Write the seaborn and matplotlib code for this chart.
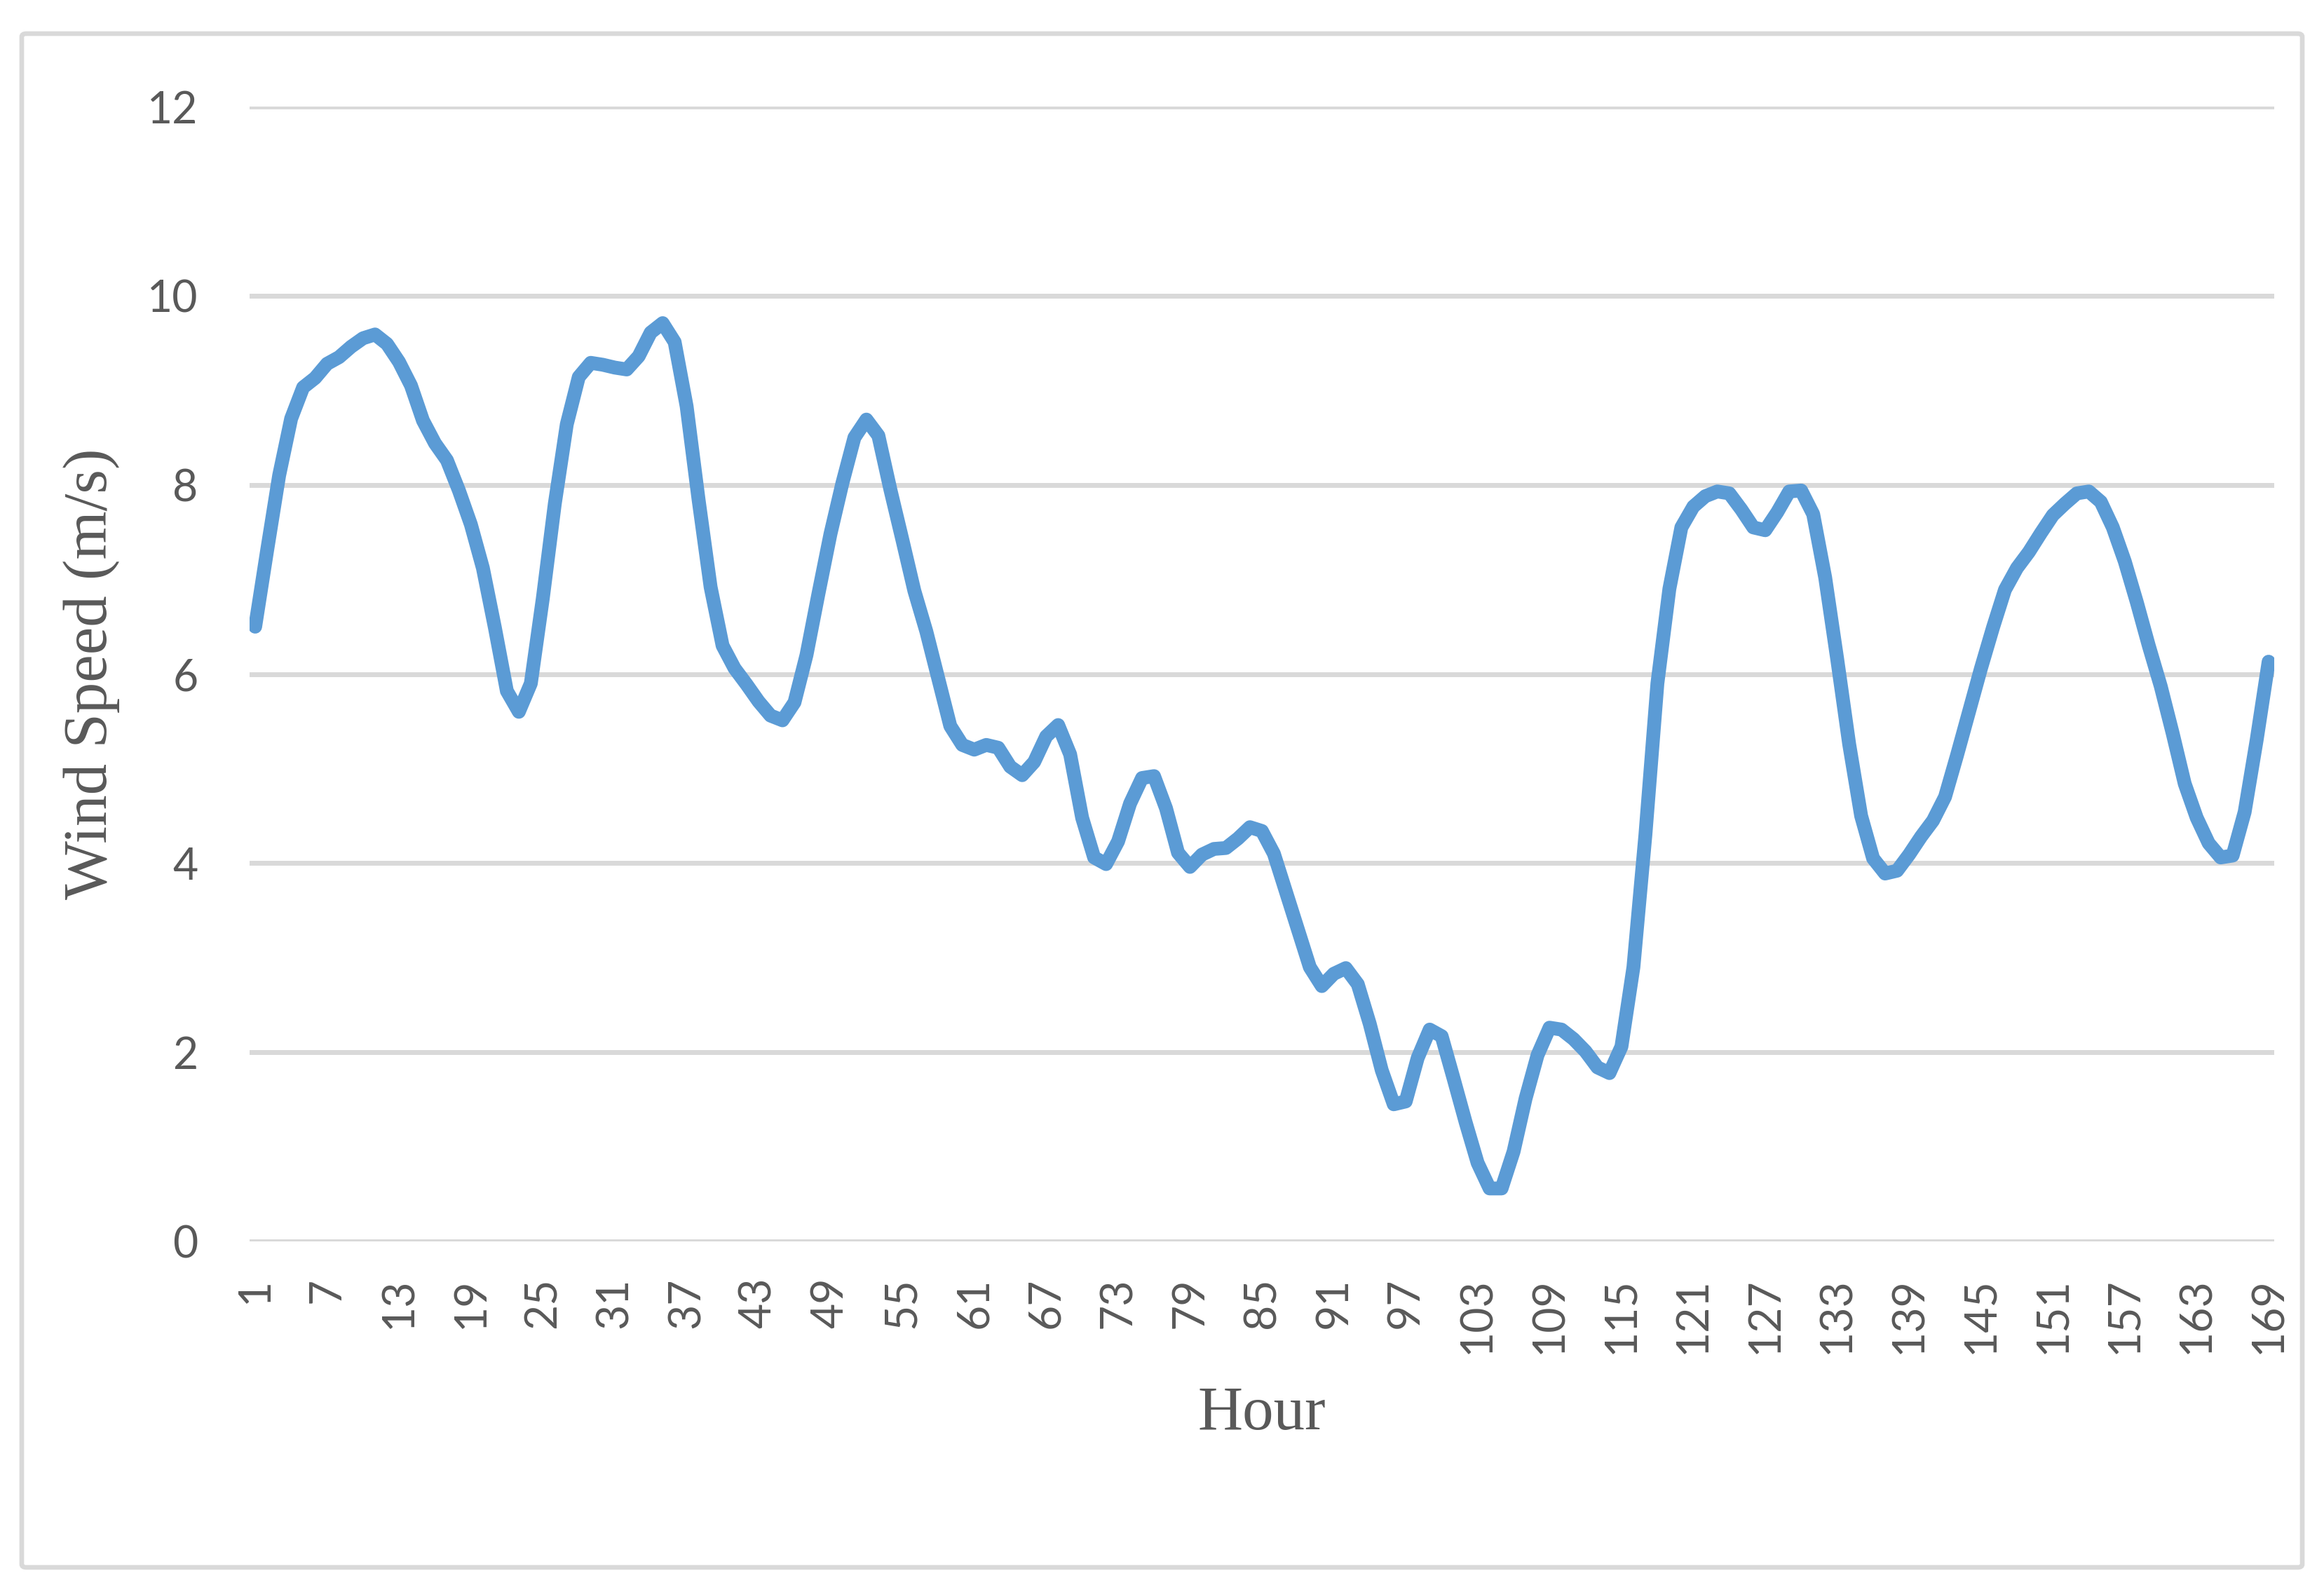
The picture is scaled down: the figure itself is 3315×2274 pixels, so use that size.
import matplotlib
matplotlib.use("Agg")
import matplotlib.pyplot as plt
from matplotlib.patches import FancyBboxPatch
import seaborn as sns
import pandas as pd

# ---------------- data ----------------
hours = list(range(1, 170))
wind_speed = [
    6.50, 7.31, 8.10, 8.70, 9.03, 9.13, 9.28, 9.35, 9.46, 9.55,
    9.59, 9.49, 9.30, 9.05, 8.68, 8.44, 8.26, 7.94, 7.58, 7.12,
    6.49, 5.82, 5.60, 5.90, 6.80, 7.80, 8.64, 9.14, 9.29, 9.27,
    9.24, 9.22, 9.36, 9.61, 9.71, 9.51, 8.83, 7.84, 6.92, 6.30,
    6.06, 5.89, 5.71, 5.56, 5.51, 5.70, 6.20, 6.85, 7.48, 8.02,
    8.50, 8.69, 8.52, 7.95, 7.42, 6.88, 6.45, 5.95, 5.45, 5.25,
    5.20, 5.25, 5.22, 5.02, 4.93, 5.07, 5.34, 5.46, 5.15, 4.48,
    4.06, 3.99, 4.23, 4.63, 4.90, 4.92, 4.58, 4.11, 3.96, 4.09,
    4.15, 4.16, 4.26, 4.38, 4.34, 4.10, 3.70, 3.30, 2.90, 2.70,
    2.83, 2.89, 2.72, 2.30, 1.81, 1.45, 1.48, 1.94, 2.24, 2.17,
    1.72, 1.26, 0.83, 0.56, 0.56, 0.95, 1.51, 1.97, 2.26, 2.24,
    2.14, 2.01, 1.84, 1.78, 2.06, 2.90, 4.30, 5.90, 6.90, 7.55,
    7.77, 7.88, 7.93, 7.91, 7.74, 7.55, 7.52, 7.71, 7.93, 7.94,
    7.69, 7.02, 6.16, 5.26, 4.50, 4.05, 3.89, 3.92, 4.09, 4.28,
    4.45, 4.70, 5.14, 5.60, 6.06, 6.49, 6.89, 7.12, 7.29, 7.49,
    7.68, 7.80, 7.91, 7.93, 7.82, 7.55, 7.19, 6.76, 6.30, 5.87,
    5.37, 4.84, 4.48, 4.21, 4.06, 4.08, 4.54, 5.30, 6.13,
]
x_ticks = [1, 7, 13, 19, 25, 31, 37, 43, 49, 55, 61, 67, 73, 79, 85, 91, 97,
           103, 109, 115, 121, 127, 133, 139, 145, 151, 157, 163, 169]
y_ticks = [0, 2, 4, 6, 8, 10, 12]
x_title = "Hour"
y_title = "Wind Speed (m/s)"

df = pd.DataFrame({"Hour": hours, "Wind": wind_speed})

# ---------------- style ----------------
sns.set_style("white")
plt.rcParams["font.family"] = ["Lato", "DejaVu Sans"]

W, H = 3315, 2274
DPI = 100
fig = plt.figure(figsize=(W / DPI, H / DPI), dpi=DPI)
fig.patch.set_facecolor("white")

# outer chart border
border = FancyBboxPatch((31 / W, 1 - 2236 / H), (3284 - 31) / W, (2236 - 48) / H,
                        boxstyle="round,pad=0,rounding_size=0.002",
                        transform=fig.transFigure, fill=False,
                        edgecolor="#D9D9D9", linewidth=4.8, zorder=0)
fig.patches.append(border)

ax_left, ax_right = 356, 3244
ax_top, ax_bottom = 152, 1771
ax = fig.add_axes([ax_left / W, 1 - ax_bottom / H,
                   (ax_right - ax_left) / W, (ax_bottom - ax_top) / H])

sns.lineplot(data=df, x="Hour", y="Wind", ax=ax, color="#5B9BD5",
             linewidth=14.2, solid_capstyle="round", solid_joinstyle="round",
             zorder=3)

px_per_hour = (3236 - 364) / 168.0
margin = (364 - ax_left) / px_per_hour
ax.set_xlim(1 - margin, 169 + margin)
ax.set_ylim(0, 12)

ax.set_yticks(y_ticks)
ax.set_xticks(x_ticks)
ax.set_xticklabels([str(t) for t in x_ticks], rotation=90)
ax.yaxis.grid(True, color="#D9D9D9", linewidth=5.0)
ax.xaxis.grid(False)
ax.set_axisbelow(True)
for s in ax.spines.values():
    s.set_visible(False)

ax.tick_params(axis="both", length=0, labelcolor="#595959", labelsize=45)
ax.tick_params(axis="y", pad=53)
ax.tick_params(axis="x", pad=37)

ax.set_xlabel(x_title, family="Liberation Serif", fontsize=64, color="#595959",
              va="center")
ax.set_ylabel(y_title, family="Liberation Serif", fontsize=64, color="#595959",
              va="center")
ax.xaxis.set_label_coords(0.5, (ax_bottom - 2017) / (ax_bottom - ax_top))
ax.yaxis.set_label_coords((131 - ax_left) / (ax_right - ax_left), 0.5)

fig.savefig("out.png", dpi=DPI, facecolor="white")
